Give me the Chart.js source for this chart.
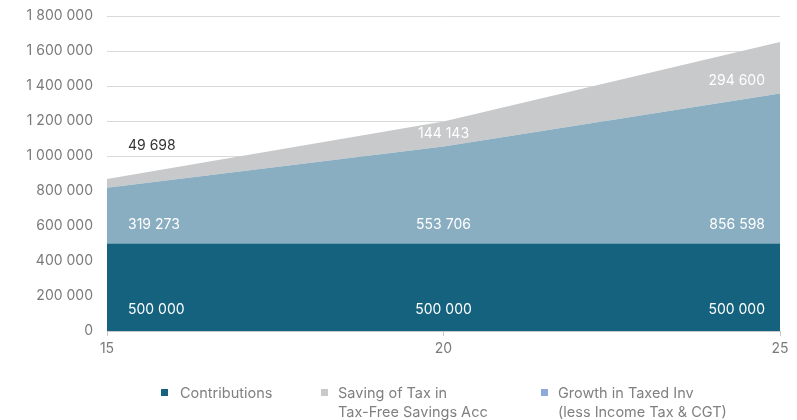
<!DOCTYPE html>
<html>
<head>
<meta charset="utf-8">
<script src="https://cdn.jsdelivr.net/npm/chart.js@4.4.1/dist/chart.umd.min.js"></script>
<style>
html,body{margin:0;padding:0;background:#fff;}
#wrap{width:797px;height:420px;position:relative;}
</style>
</head>
<body>
<div id="wrap"><canvas id="c" width="797" height="420"></canvas></div>
<script>
const years = [15, 20, 25];
const contributions = [500000, 500000, 500000];
const growthTaxed = [319273, 553706, 856598];
const taxSaving = [49698, 144143, 294600];
const legendLabels = [
  ["Contributions"],
  ["Saving of Tax in", "Tax-Free Savings Acc"],
  ["Growth in Taxed Inv", "(less Income Tax & CGT)"]
];
const yMin = 0, yMax = 1800000, yStep = 200000;

const FONT = "Inter, 'Open Sans', sans-serif";
const fmt = v => Math.round(v).toString().replace(/\B(?=(\d{3})+(?!\d))/g, ' ');
const pts = arr => years.map((x, i) => ({x: x, y: arr[i]}));

const colors = {
  contrib: '#15627e',
  growth: '#8aaec1',
  saving: '#c8c9cb',
  growthLegend: '#8eaad8'
};

const labelPlugin = {
  id: 'bandLabels',
  afterDatasetsDraw(chart) {
    const ctx = chart.ctx;
    const ys = chart.scales.y;
    const offsets = [21, 19, 13];
    ctx.save();
    ctx.font = "14px " + FONT;
    ctx.textBaseline = 'middle';
    chart.data.datasets.forEach((ds, i) => {
      const meta = chart.getDatasetMeta(i);
      const n = meta.data.length;
      meta.data.forEach((pt, j) => {
        const topY = pt.y;
        const baseY = i === 0 ? ys.getPixelForValue(0) : chart.getDatasetMeta(i - 1).data[j].y;
        let y = baseY - offsets[i];
        let color = '#ffffff';
        if (baseY - topY < 15) { y = topY - 33; color = '#333333'; }
        let x = pt.x;
        if (j === 0) { ctx.textAlign = 'left'; x += 21; }
        else if (j === n - 1) { ctx.textAlign = 'right'; x -= 15; }
        else { ctx.textAlign = 'center'; }
        ctx.fillStyle = color;
        ctx.fillText(fmt(ds.data[j].y), x, y);
      });
    });
    ctx.restore();
  }
};

const legendPlugin = {
  id: 'customLegend',
  afterDraw(chart) {
    const ctx = chart.ctx;
    const items = [
      {marker: colors.contrib, lines: legendLabels[0], mx: 161, tx: 180},
      {marker: colors.saving, lines: legendLabels[1], mx: 321, tx: 338},
      {marker: colors.growthLegend, lines: legendLabels[2], mx: 541, tx: 558}
    ];
    ctx.save();
    ctx.font = "14.5px " + FONT;
    ctx.textBaseline = 'middle';
    ctx.textAlign = 'left';
    items.forEach(it => {
      ctx.fillStyle = it.marker;
      ctx.fillRect(it.mx, 389, 7, 7);
      ctx.fillStyle = '#808080';
      it.lines.forEach((ln, k) => ctx.fillText(ln, it.tx, 394 + k * 19));
    });
    ctx.restore();
  }
};

new Chart(document.getElementById('c'), {
  type: 'line',
  data: {
    datasets: [
      {label: legendLabels[0].join(' '), data: pts(contributions), backgroundColor: colors.contrib, borderWidth: 0, fill: 'origin', pointRadius: 0, tension: 0},
      {label: legendLabels[2].join(' '), data: pts(growthTaxed), backgroundColor: colors.growth, borderWidth: 0, fill: '-1', pointRadius: 0, tension: 0},
      {label: legendLabels[1].join(' '), data: pts(taxSaving), backgroundColor: colors.saving, borderWidth: 0, fill: '-1', pointRadius: 0, tension: 0}
    ]
  },
  options: {
    responsive: false,
    animation: false,
    layout: {padding: {left: 0, right: 17, top: 16, bottom: 0}},
    plugins: {legend: {display: false}, tooltip: {enabled: false}},
    scales: {
      x: {
        type: 'linear', min: years[0], max: years[years.length - 1],
        ticks: {stepSize: 5, color: '#7a7a7a', font: {size: 14, family: FONT}, padding: 4},
        grid: {drawOnChartArea: false, drawTicks: true, tickLength: 5, color: '#c8c8c8'},
        border: {display: true, color: '#c8c8c8'},
        afterFit(s) { s.height = 89; s.paddingLeft = 0; s.paddingRight = 0; }
      },
      y: {
        stacked: true, min: yMin, max: yMax,
        ticks: {stepSize: yStep, color: '#7a7a7a', font: {size: 14, family: FONT}, padding: 14, callback: v => fmt(v)},
        grid: {color: '#d9d9d9', drawTicks: false},
        border: {display: false},
        afterFit(s) { s.width = 107; s.paddingTop = 0; s.paddingBottom = 0; }
      }
    }
  },
  plugins: [labelPlugin, legendPlugin]
});
</script>
</body>
</html>
